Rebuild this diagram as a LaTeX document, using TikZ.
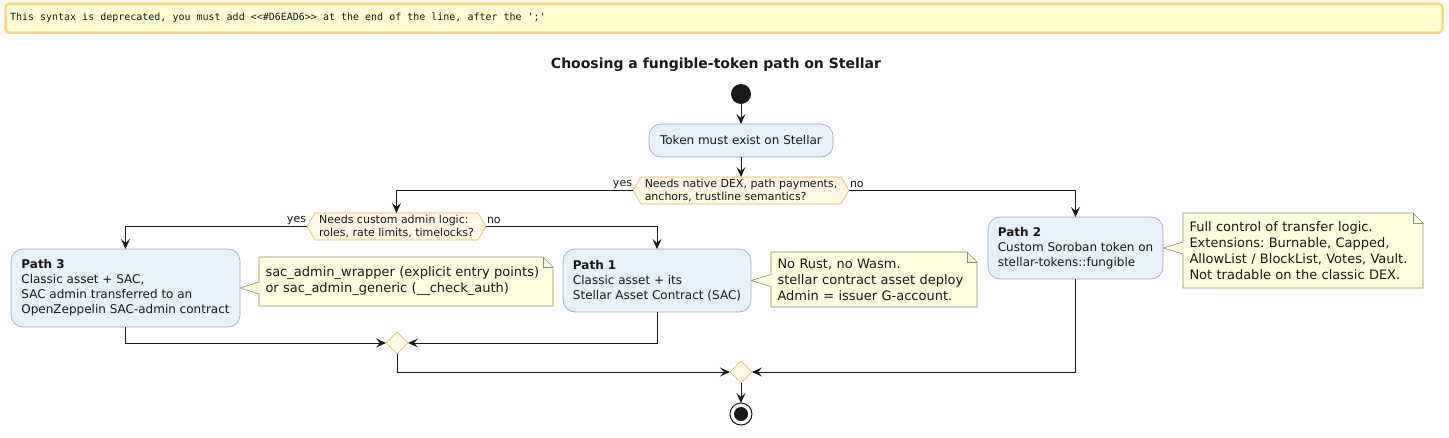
\documentclass[tikz,border=0pt]{standalone}
\usepackage{fontspec}
\setmainfont{DejaVu Sans}
\setmonofont{DejaVu Sans Mono}
\usetikzlibrary{arrows.meta,backgrounds,calc,shapes.geometric}
\definecolor{linec}{HTML}{181818}
\definecolor{boxfill}{HTML}{E8F0FA}
\definecolor{boxborder}{HTML}{8DA6C9}
\definecolor{hexfill}{HTML}{FFF8E3}
\definecolor{hexborder}{HTML}{E4B35C}
\definecolor{notefill}{HTML}{FEFFDD}
\definecolor{noteborder}{HTML}{8B8B6B}
\definecolor{warnfill}{HTML}{FFFFD2}
\definecolor{warnborder}{HTML}{FFD87F}
\begin{document}
\frenchspacing
\begin{tikzpicture}[x=1pt,y=-1pt,
  every node/.style={inner sep=0pt,outer sep=0pt,text=linec},
  arr/.style={draw=linec,line width=1pt,-{Stealth[length=10pt,width=9pt,inset=4pt]}},
  actbox/.style={draw=boxborder,fill=boxfill,rounded corners=12pt,line width=0.6pt,
    align=left,font=\fontsize{12}{15}\selectfont},
  pathbox/.style={actbox,anchor=north west},
  hextext/.style={align=left,font=\fontsize{11}{13}\selectfont,minimum height=27pt},
  hexshape/.style={draw=hexborder,fill=hexfill,line width=0.6pt},
  merge/.style={diamond,aspect=1,draw=hexborder,fill=hexfill,line width=0.6pt,minimum size=22pt},
  lbl/.style={font=\fontsize{11}{13}\selectfont},
  notetext/.style={anchor=north west,align=left,font=\fontsize{13}{16}\selectfont,inner xsep=6.5pt},
  noteshape/.style={draw=noteborder,fill=notefill,line width=0.6pt},
]
\useasboundingbox (0,0) rectangle (1449,437);

% warning banner
\node[draw=warnborder,fill=warnfill,line width=2.5pt,rounded corners=4pt,
  anchor=north west,minimum width=1437pt,minimum height=29pt] (warn) at (5.5,3.5) {};
\node[anchor=west,font=\ttfamily\fontsize{10}{12}\selectfont] (warntext) at (10,18)
  {This syntax is deprecated, you must add <{}<\#D6EAD6>{}> at the end of the line, after the \textquotesingle;\textquotesingle};

% title
\node[font=\bfseries\fontsize{14}{17}\selectfont] (title) at (716,65) {Choosing a fungible-token path on Stellar};

% start
\node[circle,fill=linec,minimum size=20pt] (start) at (741,94) {};

% first activity
\node[actbox,minimum width=184pt,minimum height=33pt] (tok) at (741,140.5) {Token must exist on Stellar};

% decision 1
\node[hextext,minimum width=200pt] (d1) at (741,190.5) {Needs native DEX, path payments,\\anchors, trustline semantics?};
\coordinate (d1l) at ($(d1.west)+(-8,0)$);
\coordinate (d1r) at ($(d1.east)+(8,0)$);
\node[lbl,anchor=east] (y1) at ($(d1l)+(-1,-6)$) {yes};
\node[lbl,anchor=west] (n1) at ($(d1r)+(1,-6)$) {no};

% decision 2
\node[hextext,minimum width=163pt] (d2) at (396.5,226.5) {Needs custom admin logic:\\roles, rate limits, timelocks?};
\coordinate (d2l) at ($(d2.west)+(-8,0)$);
\coordinate (d2r) at ($(d2.east)+(8,0)$);
\node[lbl,anchor=east] (y2) at ($(d2l)+(-1,-6)$) {yes};
\node[lbl,anchor=west] (n2) at ($(d2r)+(1,-6)$) {no};

% path boxes
\node[pathbox,minimum width=229pt,minimum height=78pt] (p3) at (11,249)
  {\textbf{Path 3}\\Classic asset + SAC,\\SAC admin transferred to an\\OpenZeppelin SAC-admin contract};
\node[pathbox,minimum width=188pt,minimum height=63pt] (p1) at (563,249)
  {\textbf{Path 1}\\Classic asset + its\\Stellar Asset Contract (SAC)};
\node[pathbox,minimum width=175pt,minimum height=62pt] (p2) at (988,217)
  {\textbf{Path 2}\\Custom Soroban token on\\stellar-tokens::fungible};

% notes
\node[notetext,text width=281pt,minimum height=49pt] (n3) at (259,257)
  {sac\_admin\_wrapper (explicit entry points)\\or sac\_admin\_generic (\_\_check\_auth)};
\node[notetext,text width=193pt,minimum height=55pt] (nt1) at (771,252)
  {No Rust, no Wasm.\\stellar contract asset deploy\\Admin = issuer G-account.};
\node[notetext,text width=227pt,minimum height=75pt] (nt2) at (1183,213)
  {Full control of transfer logic.\\Extensions: Burnable, Capped,\\AllowList / BlockList, Votes, Vault.\\Not tradable on the classic DEX.};

% merges and end
\node[merge] (m1) at (397,343) {};
\node[merge] (m2) at (741,372) {};
\node[circle,draw=linec,line width=1pt,fill=white,minimum size=22pt] (end) at (741,414) {};
\node[circle,fill=linec,minimum size=14pt] (endin) at (end.center) {};

% backgrounds: hexagons and notes
\begin{scope}[on background layer]
  \path[hexshape] (d1.north west) -- (d1.north east) -- (d1r) -- (d1.south east) -- (d1.south west) -- (d1l) -- cycle;
  \path[hexshape] (d2.north west) -- (d2.north east) -- (d2r) -- (d2.south east) -- (d2.south west) -- (d2l) -- cycle;
  \foreach \n/\b in {n3/p3,nt1/p1,nt2/p2}{
    \path[noteshape] (\n.north west) -- ($(\n.north east)+(-10,0)$) -- ($(\n.north east)+(0,10)$)
      -- (\n.south east) -- (\n.south west) -- ($(\n.west |- \b.east)+(0,6)$) -- (\b.east)
      -- ($(\n.west |- \b.east)+(0,-6)$) -- cycle;
    \draw[noteborder,line width=0.6pt] ($(\n.north east)+(-10,0)$) -- ($(\n.north east)+(-10,10)$) -- ($(\n.north east)+(0,10)$);
  }
\end{scope}

% connectors
\draw[arr] (start) -- (tok);
\draw[arr] (tok) -- (d1.north);
\draw[arr] (d1l) -| (d2.north);
\draw[arr] (d1r) -| (p2.north);
\draw[arr] (d2l) -| (p3.north);
\draw[arr] (d2r) -| (p1.north);
\draw[arr] (p3.south) |- (m1.west);
\draw[arr] (p1.south) |- (m1.east);
\draw[arr] (m1.south) |- (m2.west);
\draw[arr] (p2.south) |- (m2.east);
\draw[arr] (m2.south) -- (end);
\end{tikzpicture}
\end{document}
